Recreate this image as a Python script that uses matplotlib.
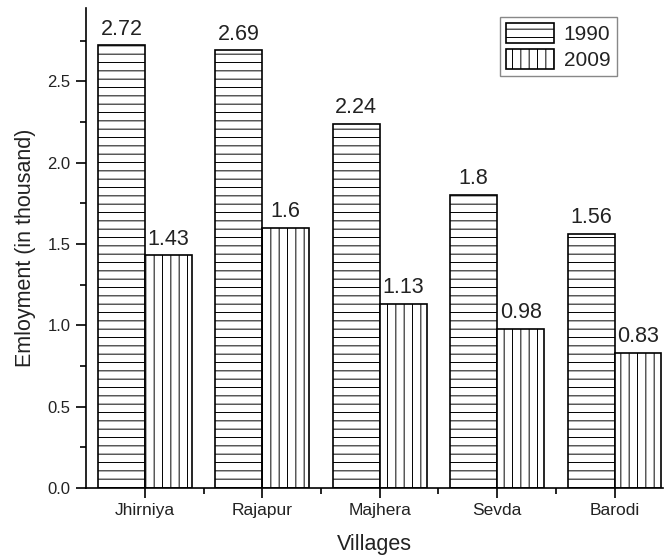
import numpy as np
import matplotlib
matplotlib.use('Agg')
from matplotlib import pyplot as plt
from matplotlib.ticker import MultipleLocator, FixedLocator, FormatStrFormatter

villages = ['Jhirniya', 'Rajapur', 'Majhera', 'Sevda', 'Barodi']
emp_1990 = [2.72, 2.69, 2.24, 1.8, 1.56]
emp_2009 = [1.43, 1.6, 1.13, 0.98, 0.83]

plt.rcParams['font.family'] = ['Liberation Sans', 'DejaVu Sans']
plt.rcParams['hatch.linewidth'] = 0.7


def main():
    fig = plt.figure(figsize=(6.64, 5.57), dpi=100)
    ax = fig.add_axes([0.1295, 0.1239, 0.8685, 0.8617])

    x = np.arange(len(villages))
    w = 0.4
    b1 = ax.bar(x - w / 2, emp_1990, w, facecolor='white', edgecolor='black',
                linewidth=1.2, hatch='--', label='1990')
    b2 = ax.bar(x + w / 2, emp_2009, w, facecolor='white', edgecolor='black',
                linewidth=1.2, hatch='||', label='2009')

    for bars, vals in [(b1, emp_1990), (b2, emp_2009)]:
        for r, v in zip(bars, vals):
            ax.text(r.get_x() + r.get_width() / 2, v + 0.035, f'{v:g}',
                    ha='center', va='bottom', fontsize=15.5, color='#222222')

    ax.set_xlim(-0.502, 4.41)
    ax.set_ylim(0, 2.95)
    ax.set_xticks(x)
    ax.set_xticklabels(villages, fontsize=12.5, color='#222222')
    ax.xaxis.set_minor_locator(FixedLocator(x[:-1] + 0.5))
    ax.yaxis.set_major_locator(FixedLocator(np.arange(0, 2.6, 0.5)))
    ax.yaxis.set_major_formatter(FormatStrFormatter('%.1f'))
    ax.yaxis.set_minor_locator(MultipleLocator(0.25))
    ax.tick_params(axis='y', labelsize=12, labelcolor='#222222')
    ax.tick_params(which='major', direction='out', length=7, width=1.2, pad=4)
    ax.tick_params(which='minor', direction='out', length=4, width=1.2)

    ax.spines['top'].set_visible(False)
    ax.spines['right'].set_visible(False)
    ax.spines['left'].set_linewidth(1.2)
    ax.spines['bottom'].set_linewidth(1.2)

    ax.set_xlabel('Villages', fontsize=15.5, color='#222222', labelpad=11)
    ax.set_ylabel('Emloyment (in thousand)', fontsize=15.5, color='#222222', labelpad=8)

    leg = ax.legend(loc='upper right', bbox_to_anchor=(0.92, 0.981), borderaxespad=0,
                    fontsize=15, handlelength=2.3, handleheight=1.1,
                    handletextpad=0.45, labelspacing=0.2, borderpad=0.3,
                    fancybox=False, edgecolor='#888888', framealpha=1)
    leg.get_frame().set_linewidth(1.0)
    for t in leg.get_texts():
        t.set_color('#222222')

    fig.savefig('out.png', dpi=100)


if __name__ == '__main__':
    main()
